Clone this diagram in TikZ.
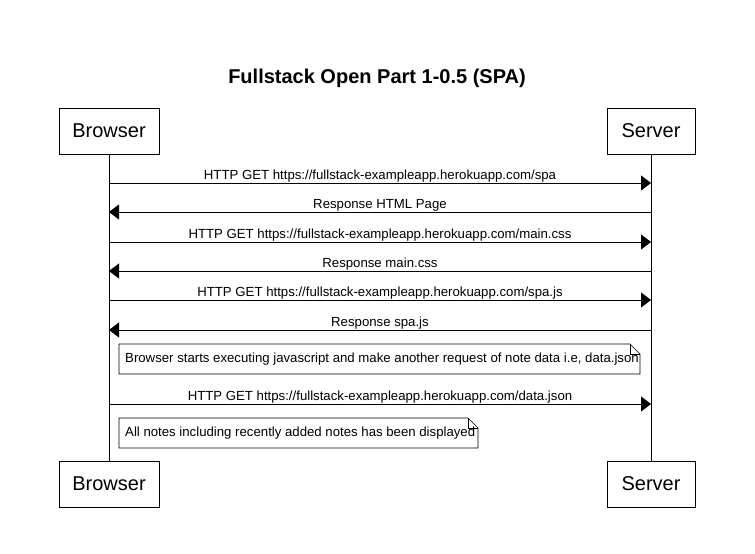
\documentclass[tikz,border=0pt]{standalone}
\usepackage{fontspec}
\setmainfont{Liberation Sans}
\usetikzlibrary{arrows.meta}
\begin{document}
\begin{tikzpicture}[x=1pt,y=-1pt,
  actor/.style={draw,line width=0.8pt,minimum height=46pt,inner sep=0pt,font=\fontsize{20}{24}\selectfont},
  life/.style={line width=0.8pt},
  msg/.style={line width=0.8pt,-{Triangle[length=10pt,width=15pt]}},
  lbl/.style={font=\fontsize{13.2}{15}\selectfont,inner sep=0pt}]
\useasboundingbox (0,0) rectangle (755,554);
\node[font=\bfseries\fontsize{20}{24}\selectfont] (title) at (377,78) {Fullstack Open Part 1-0.5 (SPA)};
\node[actor,minimum width=100pt] (bt) at (109,131) {Browser};
\node[actor,minimum width=88pt] (st) at (651,131) {Server};
\node[actor,minimum width=100pt] (bb) at (109,484) {Browser};
\node[actor,minimum width=88pt] (sb) at (651,484) {Server};
\draw[life] (bt.south) -- (bb.north);
\draw[life] (st.south) -- (sb.north);
% messages
\foreach \y/\dir/\t [count=\i] in {
  183/r/{HTTP GET https://fullstack-exampleapp.herokuapp.com/spa},
  212/l/{Response HTML Page},
  242/r/{HTTP GET https://fullstack-exampleapp.herokuapp.com/main.css},
  271/l/{Response main.css},
  300/r/{HTTP GET https://fullstack-exampleapp.herokuapp.com/spa.js},
  330/l/{Response spa.js},
  404/r/{HTTP GET https://fullstack-exampleapp.herokuapp.com/data.json}}{
  \coordinate (b\i) at (109,\y);
  \coordinate (s\i) at (651,\y);
  \if\dir r
    \draw[msg] (b\i) -- (s\i);
  \else
    \draw[msg] (s\i) -- (b\i);
  \fi
  \node[lbl,anchor=base] (m\i) at (380,\y-4) {\t};
}
% notes
\draw[line width=0.6pt] (119,344) -- (630,344) -- (640,354) -- (640,374) -- (119,374) -- cycle;
\draw[line width=0.6pt] (630,344) -- (630,354) -- (640,354);
\node[lbl,anchor=west] (n1) at (125,359) {Browser starts executing javascript and make another request of note data i.e, data.json};
\draw[line width=0.6pt] (119,418) -- (468,418) -- (478,428) -- (478,448) -- (119,448) -- cycle;
\draw[line width=0.6pt] (468,418) -- (468,428) -- (478,428);
\node[lbl,anchor=west] (n2) at (125,433) {All notes including recently added notes has been displayed};
\end{tikzpicture}
\end{document}
